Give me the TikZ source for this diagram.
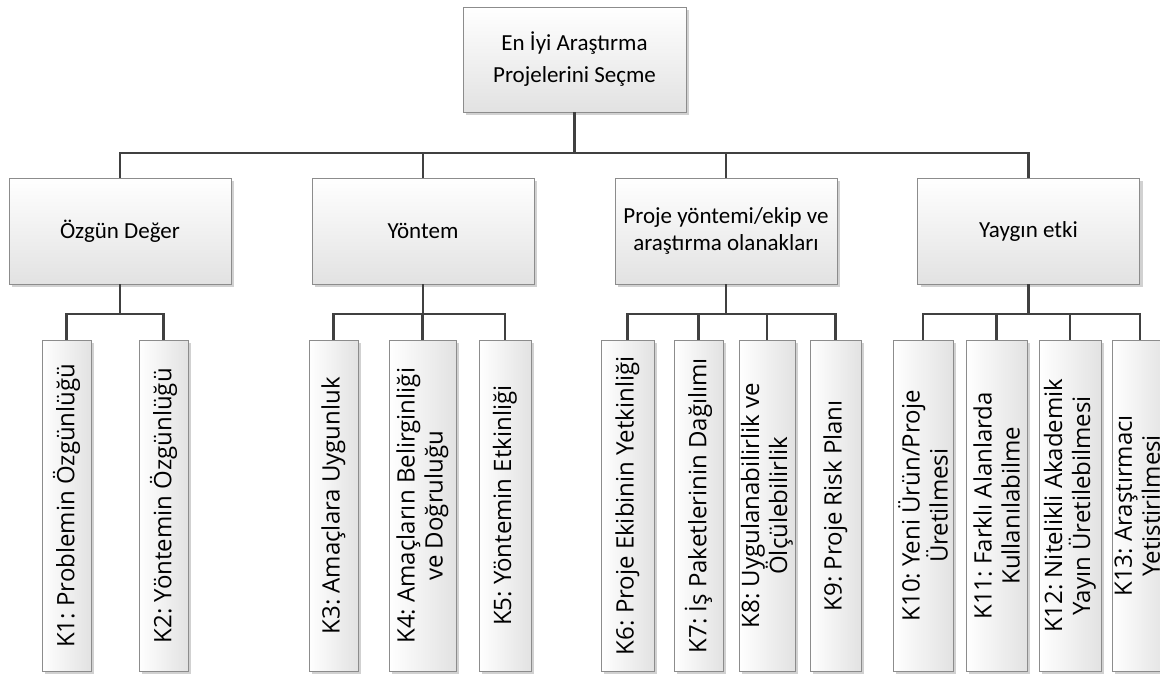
\documentclass[tikz,border=0pt]{standalone}
\usepackage{fontspec}
\setmainfont{Carlito}
\newfontfamily\leaffont{Open Sans}
\usetikzlibrary{shadows}
\definecolor{connc}{HTML}{404040}
\definecolor{bordc}{HTML}{8C8C8C}
\definecolor{shadec}{HTML}{E2E2E2}
\frenchspacing
\begin{document}
\begin{tikzpicture}[x=1pt,y=-1pt,
  box/.style={draw=bordc, line width=0.8pt,
    inner sep=0pt, align=center,
    drop shadow={shadow xshift=3pt, shadow yshift=-3pt, opacity=0.18, fill=black}},
  headbox/.style={box, top color=white, bottom color=shadec, font=\fontsize{23}{32}\selectfont, minimum width=223, minimum height=105},
  catbox/.style={box, top color=white, bottom color=shadec, font=\fontsize{23}{27}\selectfont, minimum width=222, minimum height=106},
  leafbox/.style={box, left color=white, right color=shadec, minimum height=331.5, minimum width=#1},
  leaftext/.style={rotate=90, inner sep=0pt, align=center, font=\leaffont\fontsize{24}{28}\selectfont},
  conn/.style={draw=connc, line width=2.6pt}]
\useasboundingbox (0,0) rectangle (1160,673);
\clip (0,0) rectangle (1160,673);

% top
\node[headbox] (top) at (574.5,59.5) {En İyi Araştırma\\Projelerini Seçme};

% categories
\node[catbox] (c1) at (120,231) {Özgün Değer};
\node[catbox] (c2) at (423,231) {Yöntem};
\node[catbox] (c3) at (726,231) {\raisebox{-3pt}{Proje yöntemi/ekip ve}\\\raisebox{-3pt}{araştırma olanakları}};
\node[catbox] (c4) at (1028.5,231) {Yaygın etki};

% leaves
\node[leafbox=49] (k1) at (66.5,505.75) {};
\node[leafbox=49] (k2) at (163.5,505.75) {};
\node[leafbox=49] (k3) at (333.5,505.75) {};
\node[leafbox=67] (k4) at (422.5,505.75) {};
\node[leafbox=52] (k5) at (505,505.75) {};
\node[leafbox=53] (k6) at (627.5,505.75) {};
\node[leafbox=49] (k7) at (698.5,505.75) {};
\node[leafbox=56] (k8) at (767,505.75) {};
\node[leafbox=51] (k9) at (835.5,505.75) {};
\node[leafbox=60] (k10) at (923,505.75) {};
\node[leafbox=61] (k11) at (996.5,505.75) {};
\node[leafbox=62] (k12) at (1070,505.75) {};
\node[leafbox=56] (k13) at (1140,505.75) {};

\node[leaftext] (t1) at (k1.center) {K1: Problemin Özgünlüğü};
\node[leaftext] (t2) at (k2.center) {K2: Yöntemin Özgünlüğü};
\node[leaftext] (t3) at (k3.center) {K3: Amaçlara Uygunluk};
\node[leaftext] (t4) at (k4.center) {K4: Amaçların Belirginliği\\ve Doğruluğu};
\node[leaftext] (t5) at (k5.center) {K5: Yöntemin Etkinliği};
\node[leaftext] (t6) at (k6.center) {K6: Proje Ekibinin Yetkinliği};
\node[leaftext] (t7) at (k7.center) {K7: İş Paketlerinin Dağılımı};
\node[leaftext] (t8) at (k8.center) {K8: Uygulanabilirlik ve\\Ölçülebilirlik};
\node[leaftext] (t9) at (k9.center) {K9: Proje Risk Planı};
\node[leaftext] (t10) at (k10.center) {K10: Yeni Ürün/Proje\\Üretilmesi};
\node[leaftext] (t11) at (k11.center) {K11: Farklı Alanlarda\\Kullanılabilme};
\node[leaftext] (t12) at (k12.center) {K12: Nitelikli Akademik\\Yayın Üretilebilmesi};
\node[leaftext] (t13) at (k13.center) {K13: Araştırmacı\\Yetiştirilmesi};

% bus coordinates
\coordinate (b0) at (0,153);
\coordinate (b1) at (0,314);

% top level connectors
\draw[conn] (top.south) -- (top.south |- b0);
\draw[conn] (c1.north) -- (c1.north |- b0) -- (c4.north |- b0) -- (c4.north);
\draw[conn] (c2.north) -- (c2.north |- b0);
\draw[conn] (c3.north) -- (c3.north |- b0);

% group 1
\draw[conn] (c1.south) -- (c1.south |- b1);
\draw[conn] (k1.north) -- (k1.north |- b1) -- (k2.north |- b1) -- (k2.north);

% group 2
\draw[conn] (c2.south) -- (c2.south |- b1);
\draw[conn] (k3.north) -- (k3.north |- b1) -- (k5.north |- b1) -- (k5.north);
\draw[conn] (k4.north) -- (k4.north |- b1);

% group 3
\draw[conn] (c3.south) -- (c3.south |- b1);
\draw[conn] (k6.north) -- (k6.north |- b1) -- (k9.north |- b1) -- (k9.north);
\draw[conn] (k7.north) -- (k7.north |- b1);
\draw[conn] (k8.north) -- (k8.north |- b1);

% group 4
\draw[conn] (c4.south) -- (c4.south |- b1);
\draw[conn] (k10.north) -- (k10.north |- b1) -- (k13.north |- b1) -- (k13.north);
\draw[conn] (k11.north) -- (k11.north |- b1);
\draw[conn] (k12.north) -- (k12.north |- b1);
\end{tikzpicture}
\end{document}
